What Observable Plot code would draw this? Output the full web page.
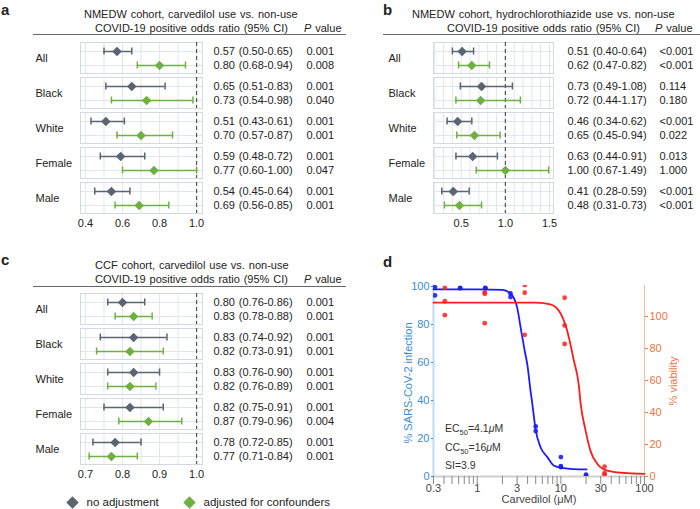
<!DOCTYPE html>
<html><head><meta charset="utf-8">
<script src="https://cdn.jsdelivr.net/npm/d3@7"></script>
<script src="https://cdn.jsdelivr.net/npm/@observablehq/plot@0.6"></script>
<style>
body{margin:0;width:700px;height:509px;position:relative;overflow:hidden;background:#fff;font-family:"Liberation Sans",Arial,sans-serif;color:#222}
.abs{position:absolute;white-space:nowrap}
.lbl{position:absolute;font-weight:bold;font-size:15px;line-height:15px}
.hd{position:absolute;white-space:nowrap;font-size:11px;word-spacing:0.8px;line-height:13px;color:#222}
.rule{position:absolute;height:0;border-top:1px solid #666}
.ann{position:absolute;white-space:nowrap;font-size:10.5px;line-height:14px;color:#333}
.ann sub{font-size:7.5px;vertical-align:-3px;line-height:0}
</style></head><body>
<div class="lbl" style="left:1px;top:2px">a</div>
<div class="lbl" style="left:383px;top:2px">b</div>
<div class="lbl" style="left:1px;top:252px">c</div>
<div class="lbl" style="left:383px;top:254px">d</div>

<div class="hd" style="left:84px;top:8px">NMEDW cohort, carvedilol use vs. non-use</div>
<div class="hd" style="left:95px;top:22px">COVID-19 positive odds ratio (95% CI)</div>
<div class="hd" style="left:304px;top:22px"><i>P</i> value</div>
<div class="rule" style="left:33px;width:313px;top:34px"></div>

<div class="hd" style="left:412px;top:8px">NMEDW cohort, hydrochlorothiazide use vs. non-use</div>
<div class="hd" style="left:447px;top:22px">COVID-19 positive odds ratio (95% CI)</div>
<div class="hd" style="left:655px;top:22px"><i>P</i> value</div>
<div class="rule" style="left:383px;width:317px;top:34px"></div>

<div class="hd" style="left:95px;top:259px">CCF cohort, carvedilol use vs. non-use</div>
<div class="hd" style="left:95px;top:273px">COVID-19 positive odds ratio (95% CI)</div>
<div class="hd" style="left:304px;top:273px"><i>P</i> value</div>
<div class="rule" style="left:33px;width:313px;top:286px"></div>

<div id="pa" class="abs" style="left:0;top:36px"></div>
<div id="pb" class="abs" style="left:350px;top:36px"></div>
<div id="pc" class="abs" style="left:0;top:287px"></div>
<div id="leg" class="abs" style="left:0;top:492px"></div>
<div id="pd" class="abs" style="left:350px;top:275px"></div>

<div class="ann" style="left:445px;top:421px">EC<sub>50</sub>=4.1<i>μ</i>M</div>
<div class="ann" style="left:445px;top:440px">CC<sub>50</sub>=16<i>μ</i>M</div>
<div class="ann" style="left:445px;top:458px">SI=3.9</div>

<script>
// ---------- data ----------
const groups = ["All", "Black", "White", "Female", "Male"];
const types = ["no adjustment", "adjusted for confounders"];

// Panel a: NMEDW carvedilol (pairs: no adjustment, adjusted) per group
const aOR = [0.57, 0.80, 0.65, 0.73, 0.51, 0.70, 0.59, 0.77, 0.54, 0.69];
const aLo = [0.50, 0.68, 0.51, 0.54, 0.43, 0.57, 0.48, 0.60, 0.45, 0.56];
const aHi = [0.65, 0.94, 0.83, 0.98, 0.61, 0.87, 0.72, 1.00, 0.64, 0.85];
const aP  = ["0.001", "0.008", "0.001", "0.040", "0.001", "0.001", "0.001", "0.047", "0.001", "0.001"];
const aTicks = [0.4, 0.6, 0.8, 1.0];
const aGrid = [0.4, 0.5, 0.6, 0.7, 0.8, 0.9, 1.0];

// Panel b: NMEDW hydrochlorothiazide
const bOR = [0.51, 0.62, 0.73, 0.72, 0.46, 0.65, 0.63, 1.00, 0.41, 0.48];
const bLo = [0.40, 0.47, 0.49, 0.44, 0.34, 0.45, 0.44, 0.67, 0.28, 0.31];
const bHi = [0.64, 0.82, 1.08, 1.17, 0.62, 0.94, 0.91, 1.49, 0.59, 0.73];
const bP  = ["<0.001", "<0.001", "0.114", "0.180", "<0.001", "0.022", "0.013", "1.000", "<0.001", "<0.001"];
const bTicks = [0.5, 1.0, 1.5];
const bGrid = [0.2, 0.3, 0.4, 0.5, 0.6, 0.7, 0.8, 0.9, 1.0, 1.1, 1.2, 1.3, 1.4, 1.5];

// Panel c: CCF carvedilol
const cOR = [0.80, 0.83, 0.83, 0.82, 0.83, 0.82, 0.82, 0.87, 0.78, 0.77];
const cLo = [0.76, 0.78, 0.74, 0.73, 0.76, 0.76, 0.75, 0.79, 0.72, 0.71];
const cHi = [0.86, 0.88, 0.92, 0.91, 0.90, 0.89, 0.91, 0.96, 0.85, 0.84];
const cP  = ["0.001", "0.001", "0.001", "0.001", "0.001", "0.001", "0.001", "0.004", "0.001", "0.001"];
const cTicks = [0.7, 0.8, 0.9, 1.0];
const cGrid = [0.7, 0.75, 0.8, 0.85, 0.9, 0.95, 1.0];

const nullRatio = 1;

// Panel d: SARS-CoV-2 infection (left axis) and viability (right axis)
const infConc = [0.3125, 0.3125, 0.625, 0.625, 1.25, 1.25, 2.5, 2.5, 5, 5, 10, 10, 10, 20, 20];
const infPct  = [99.6, 95.3, 99.3, 99.0, 99.3, 99.0, 96.3, 94.4, 26.3, 23.9, 10.2, 5.5, 4.9, 1.0, 0.3];
const viaConc = [0.41, 0.41, 0.41, 1.23, 1.23, 1.23, 3.7, 3.7, 3.7, 11.1, 11.1, 11.1, 33.3, 33.3, 33.3];
const viaPct  = [117.8, 109.5, 100.8, 115.0, 114.2, 95.8, 119.6, 114.8, 88.5, 111.7, 94.4, 82.8, 6.2, 2.1, 1.2];
// fitted curves
const infCurveX = [0.3, 1, 2, 2.5, 3.0, 3.3, 3.7, 4.0, 4.34, 4.55, 5.0, 5.7, 6.9, 8.2, 10.8, 14, 20.3];
const infCurveY = [98.5, 98.5, 98.2, 96.3, 89, 78.5, 66, 58, 45, 38.5, 24.5, 15.5, 10.2, 5.8, 4.4, 3.9, 3.7];
const viaCurveX = [0.3, 3, 5, 7.5, 9.9, 11.9, 14.3, 16.4, 17.2, 19.7, 22.6, 27.2, 35.9, 62, 100];
const viaCurveY = [108.7, 108.7, 108.6, 107.5, 102, 91, 72.5, 57, 46, 29, 16, 8, 3.7, 2.1, 1.7];
const concTicks = [0.3, 1, 3, 10, 30, 100];
const concMinor = [0.3,0.4,0.5,0.6,0.7,0.8,0.9,1,2,3,4,5,6,7,8,9,10,20,30,40,50,60,70,80,90,100];
const infTicks = [0, 20, 40, 60, 80, 100];
const viaTicks = [0, 20, 40, 60, 80, 100];
const viaPerInf = 1.1875; // ratio of right-axis units to left-axis units

// ---------- style ----------
const FONT = "Liberation Sans, Arial, sans-serif";
const GRAY = "#5b6471", GREEN = "#6fb043";
const GRID = "#e2e5ee", FRAME = "#d3d8e3";

function forest(el, OR, LO, HI, P, domain, ticks, grid, mLeft, mRight, estDx, pDx) {
  const rows = [];
  groups.forEach((g, i) => types.forEach((t, j) => {
    const k = i * 2 + j;
    rows.push({group: g, type: t, or: OR[k], lo: LO[k], hi: HI[k], p: P[k]});
  }));
  const est = d => `${d.or.toFixed(2)} (${d.lo.toFixed(2)}-${d.hi.toFixed(2)})`;
  const chart = Plot.plot({
    width: 350, height: 199,
    marginTop: 5, marginBottom: 20, marginLeft: mLeft, marginRight: mRight,
    style: {fontFamily: FONT, fontSize: "11px", color: "#222", background: "transparent", overflow: "visible", wordSpacing: "0.8px"},
    x: {domain, ticks, tickFormat: d => d.toFixed(1), tickSize: 0, tickPadding: 6, label: null},
    y: {domain: types, paddingInner: 0, paddingOuter: 0.07, axis: null},
    fy: {domain: groups, paddingInner: 0.11, paddingOuter: 0, axis: null},
    color: {domain: types, range: [GRAY, GREEN]},
    marks: [
      Plot.ruleX(grid, {stroke: GRID, strokeWidth: 1}),
      Plot.ruleY(types, {y: d => d, stroke: GRID, strokeWidth: 1}),
      Plot.frame({stroke: FRAME}),
      Plot.ruleX([nullRatio], {stroke: "#555", strokeDasharray: "4,3", strokeWidth: 1.2}),
      Plot.ruleY(rows, {y: "type", fy: "group", x1: "lo", x2: "hi", stroke: "type", strokeWidth: 1.5}),
      Plot.tickX(rows, {x: "lo", y: "type", fy: "group", stroke: "type", strokeWidth: 1.5, insetTop: 3.5, insetBottom: 3.5}),
      Plot.tickX(rows, {x: "hi", y: "type", fy: "group", stroke: "type", strokeWidth: 1.5, insetTop: 3.5, insetBottom: 3.5}),
      Plot.dot(rows, {x: "or", y: "type", fy: "group", symbol: "diamond2", r: 4.3, fill: "type", stroke: "none"}),
      Plot.text(rows, {y: "type", fy: "group", frameAnchor: "right", dx: estDx, textAnchor: "start", text: est}),
      Plot.text(rows, {y: "type", fy: "group", frameAnchor: "right", dx: pDx, textAnchor: "start", text: "p"}),
      Plot.text(groups, {fy: d => d, frameAnchor: "left", dx: -45, textAnchor: "start", text: d => d})
    ]
  });
  document.getElementById(el).appendChild(chart);
}

forest("pa", aOR, aLo, aHi, aP, [0.373, 1.032], aTicks, aGrid, 80, 148, 11, 104);
forest("pb", bOR, bLo, bHi, bP, [0.186, 1.545], bTicks, bGrid, 83, 147, 14, 106);
forest("pc", cOR, cLo, cHi, cP, [0.6865, 1.016], cTicks, cGrid, 80, 148, 11, 104);

// legend
document.getElementById("leg").appendChild(Plot.plot({
  width: 350, height: 20, margin: 0,
  style: {fontFamily: FONT, fontSize: "11.5px", color: "#222", background: "transparent", overflow: "visible"},
  x: {type: "point", domain: types, range: [72, 189], padding: 0, axis: null},
  color: {domain: types, range: [GRAY, GREEN]},
  marks: [
    Plot.dot(types, {x: d => d, symbol: "diamond2", r: 5.6, fill: d => d}),
    Plot.text(types, {x: d => d, text: d => d, dx: 14, textAnchor: "start"})
  ]
}));

// panel d
const BLUE = "#1c1cff", RED = "#ff1c1c", LBLUE = "#3a8bd6", ORANGE = "#ee7544";
const infPts = infConc.map((c, i) => ({c, v: infPct[i]}));
const viaPts = viaConc.map((c, i) => ({c, v: viaPct[i]}));
const infCurve = infCurveX.map((c, i) => ({c, v: infCurveY[i]}));
const viaCurve = viaCurveX.map((c, i) => ({c, v: viaCurveY[i]}));

document.getElementById("pd").appendChild(Plot.plot({
  width: 350, height: 234,
  marginLeft: 83, marginRight: 56, marginTop: 10, marginBottom: 33,
  style: {fontFamily: FONT, fontSize: "11px", color: "#444", background: "transparent", overflow: "visible"},
  x: {type: "log", domain: [0.3, 100], axis: null},
  y: {domain: [0, 100.5], axis: null},
  marks: [
    Plot.frame({anchor: "left", stroke: "#bcdaf3", strokeWidth: 2}),
    Plot.frame({anchor: "right", stroke: "#f6bca2", strokeWidth: 1}),
    Plot.frame({anchor: "bottom", stroke: "#cfcfcf", strokeWidth: 2}),
    Plot.tickX(concMinor, {x: d => d, frameAnchor: "bottom", stroke: "#888", insetTop: 199}),
    Plot.text(concTicks, {x: d => d, frameAnchor: "bottom", dy: 11.5, lineAnchor: "middle", text: d => String(d), fill: "#444"}),
    Plot.axisY(infTicks, {anchor: "left", tickSize: 2, tickPadding: 2, color: LBLUE, label: null}),
    Plot.axisY(viaTicks.map(v => v / viaPerInf), {anchor: "right", tickSize: 3, tickPadding: 2, tickFormat: d => Math.round(d * viaPerInf), color: ORANGE, label: null}),
    Plot.text(["% SARS-CoV-2 infection"], {frameAnchor: "left", dx: -25, dy: 2, rotate: -90, textAnchor: "middle", fill: LBLUE}),
    Plot.text(["% viability"], {frameAnchor: "right", dx: 29, rotate: -90, textAnchor: "middle", fill: ORANGE}),
    Plot.text(["Carvedilol (μM)"], {frameAnchor: "bottom", dy: 23, lineAnchor: "middle", textAnchor: "middle", fill: "#444"}),
    Plot.line(infCurve, {x: "c", y: "v", stroke: BLUE, strokeWidth: 1.8, curve: "monotone-x"}),
    Plot.line(viaCurve, {x: "c", y: d => d.v / viaPerInf, stroke: RED, strokeWidth: 1.8, curve: "monotone-x"}),
    Plot.dot(infPts, {x: "c", y: "v", r: 2.4, fill: BLUE, fillOpacity: 0.9, clip: true}),
    Plot.dot(viaPts, {x: "c", y: d => d.v / viaPerInf, r: 2.4, fill: RED, fillOpacity: 0.85, clip: true})
  ]
}));
</script>
</body></html>
